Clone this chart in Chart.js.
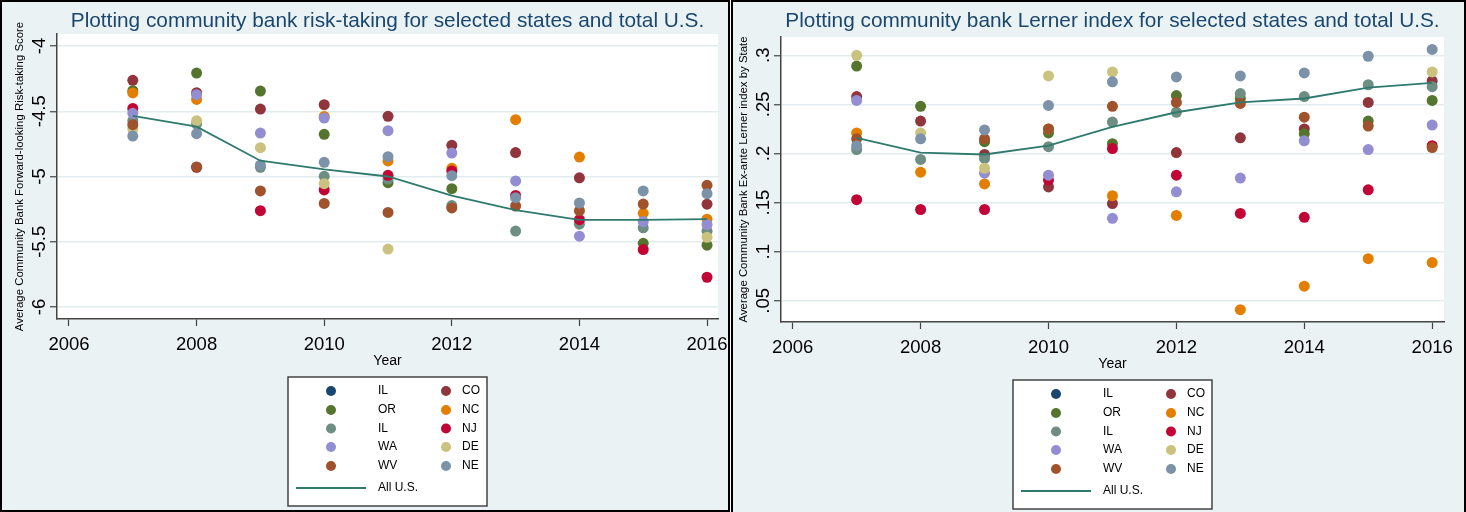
<!DOCTYPE html>
<html>
<head>
<meta charset="utf-8">
<script src="https://cdn.jsdelivr.net/npm/chart.js@4.4.1/dist/chart.umd.min.js"></script>
<style>
  body { margin: 0; background: #fff; }
  .panel { position: absolute; top: 0; box-sizing: border-box; border: 2px solid #000; background: #eaf2f3; }
  #leftPanel { left: 0; width: 730px; height: 512px; }
  #rightPanel { left: 731px; width: 735px; height: 514px; }
  canvas { display: block; }
</style>
</head>
<body>
<div class="panel" id="leftPanel"><canvas id="riskChart" width="726" height="508"></canvas></div>
<div class="panel" id="rightPanel"><canvas id="lernerChart" width="731" height="510"></canvas></div>
<script>
const FONT = '"Liberation Sans", Arial, sans-serif';

const years = [2007, 2008, 2009, 2010, 2011, 2012, 2013, 2014, 2015, 2016];
const xTicks = [2006, 2008, 2010, 2012, 2014, 2016];
const xTickLabels = ['2006', '2008', '2010', '2012', '2014', '2016'];

// Stata legend order (row-major, 2 columns)
const states = ['IL', 'CO', 'OR', 'NC', 'IL', 'NJ', 'WA', 'DE', 'WV', 'NE'];
const stateColors = ['#1a476f', '#90353b', '#55752f', '#e37e00', '#6e8e84',
                     '#c10534', '#938dd2', '#cac27e', '#a0522d', '#7b92a8'];
const usLabel = 'All U.S.';
const usColor = '#2f7a6d';

// risk-taking score
const riskIL = [null, null, null, null, null, null, null, null, null, null];
const riskCO = [-4.263, -4.358, -4.483, -4.450, -4.539, -4.761, -4.817, -5.010, null, -5.212];
const riskOR = [-4.342, -4.207, -4.345, -4.677, -5.047, -5.093, null, null, -5.512, -5.526];
const riskNC = [-4.360, -4.409, null, -4.540, -4.881, -4.937, -4.565, -4.851, -5.282, -5.327];
const riskIL2 = [-4.572, -4.598, -4.930, -4.999, -5.020, -5.223, -5.418, -5.365, -5.393, -5.419];
const riskNJ = [-4.478, -4.930, -5.262, -5.103, -4.991, -4.958, -5.145, -5.331, -5.560, -5.772];
const riskWA = [-4.516, -4.373, -4.667, -4.552, -4.649, -4.820, -5.034, -5.457, -5.345, -5.368];
const riskDE = [-4.636, -4.572, -4.779, -5.055, -5.556, null, null, null, null, -5.466];
const riskWV = [-4.603, -4.927, -5.111, -5.206, -5.275, -5.241, -5.226, -5.262, -5.211, -5.068];
const riskNE = [-4.690, -4.672, -4.912, -4.891, -4.848, -4.994, -5.162, -5.203, -5.111, -5.132];
const riskUS = [-4.536, -4.618, -4.879, -4.945, -5.000, -5.147, -5.258, -5.333, -5.333, -5.326];
const riskTicks = [-6, -5.5, -5, -4.5, -4];
const riskTickLabels = ['-6', '-5.5', '-5', '-4.5', '-4'];

// Lerner index
const lernerIL = [null, null, null, null, null, null, null, null, null, null];
const lernerCO = [0.258, 0.233, 0.199, 0.166, 0.149, 0.201, 0.216, 0.225, 0.252, 0.274];
const lernerOR = [0.289, 0.248, 0.212, 0.221, 0.210, 0.259, 0.256, 0.220, 0.233, 0.254];
const lernerNC = [0.221, 0.181, 0.169, 0.225, 0.157, 0.137, 0.041, 0.065, 0.093, 0.089];
const lernerIL2 = [0.204, 0.194, 0.195, 0.207, 0.232, 0.242, 0.261, 0.258, 0.270, 0.268];
const lernerNJ = [0.153, 0.143, 0.143, 0.173, 0.205, 0.178, 0.139, 0.135, 0.163, 0.208];
const lernerWA = [0.254, null, 0.180, 0.178, 0.134, 0.161, 0.175, 0.213, 0.204, 0.229];
const lernerDE = [0.300, 0.221, 0.185, 0.279, 0.283, null, null, null, null, 0.283];
const lernerWV = [0.215, null, 0.215, 0.225, 0.248, 0.252, 0.251, 0.237, 0.228, 0.206];
const lernerNE = [0.208, 0.215, 0.224, 0.249, 0.273, 0.278, 0.279, 0.282, 0.299, 0.306];
const lernerUS = [0.216, 0.201, 0.199, 0.208, 0.227, 0.242, 0.252, 0.256, 0.267, 0.272];
const lernerTicks = [0.05, 0.1, 0.15, 0.2, 0.25, 0.3];
const lernerTickLabels = ['.05', '.1', '.15', '.2', '.25', '.3'];

const toPoints = vals => years.map((x, i) => ({ x, y: vals[i] })).filter(p => p.y !== null);

// titles, axis labels and legend drawn Stata-style
const stataDecor = {
  id: 'stataDecor',
  beforeDraw(chart) {
    const { ctx, chartArea: a } = chart;
    ctx.save();
    ctx.fillStyle = '#fff';
    ctx.fillRect(a.left, a.top, a.right - a.left, a.bottom - a.top);
    ctx.restore();
  },
  afterDraw(chart, args, o) {
    const { ctx, chartArea: a } = chart;
    const cx = (a.left + a.right) / 2;
    const cy = (a.top + a.bottom) / 2;
    ctx.save();
    ctx.textAlign = 'center';
    ctx.textBaseline = 'alphabetic';

    ctx.fillStyle = '#1a476f';
    ctx.font = '20.8px ' + FONT;
    ctx.fillText(o.title, cx, 24.5);

    ctx.fillStyle = '#000';
    ctx.font = '18.5px ' + FONT;
    const ys = chart.scales.y;
    o.yTicks.forEach((v, i) => {
      ctx.save();
      ctx.translate(a.left - 12, ys.getPixelForValue(v));
      ctx.rotate(-Math.PI / 2);
      ctx.fillText(o.yTickLabels[i], 0, 0);
      ctx.restore();
    });

    ctx.font = '11.4px ' + FONT;
    ctx.save();
    ctx.translate(a.left - 34, cy);
    ctx.rotate(-Math.PI / 2);
    ctx.fillText(o.yTitle, 0, 0);
    ctx.restore();

    ctx.font = '14px ' + FONT;
    ctx.fillText('Year', cx, a.bottom + 46);

    // legend box
    const bx = cx - 99.5, by = a.bottom + 58, bw = 199, bh = 129;
    ctx.fillStyle = '#fff';
    ctx.fillRect(bx, by, bw, bh);
    ctx.strokeStyle = '#444';
    ctx.lineWidth = 1.5;
    ctx.strokeRect(bx, by, bw, bh);
    const rowY = [14, 33, 51.5, 70, 89, 111];
    ctx.font = '12px ' + FONT;
    ctx.textAlign = 'left';
    ctx.textBaseline = 'middle';
    chart.data.datasets.forEach((d, i) => {
      const col = i % 2;
      const y = by + rowY[Math.floor(i / 2)];
      if (d.showLine) {
        ctx.strokeStyle = d.borderColor;
        ctx.lineWidth = 1.8;
        ctx.beginPath();
        ctx.moveTo(bx + 8, y);
        ctx.lineTo(bx + 78, y);
        ctx.stroke();
      } else {
        ctx.fillStyle = d.backgroundColor;
        ctx.beginPath();
        ctx.arc(bx + (col ? 158 : 43), y, 5, 0, Math.PI * 2);
        ctx.fill();
      }
      ctx.fillStyle = '#000';
      ctx.fillText(d.label, bx + (col ? 174 : 90), y);
    });
    ctx.restore();
  }
};

function buildChart(id, c) {
  const datasets = c.series.map((vals, i) => ({
    label: states[i],
    data: toPoints(vals),
    backgroundColor: stateColors[i],
    borderColor: stateColors[i],
    borderWidth: 0,
    pointRadius: 5.5,
    pointHoverRadius: 5.5,
    order: 20 - i
  }));
  datasets.push({
    label: usLabel,
    data: toPoints(c.us),
    showLine: true,
    borderColor: usColor,
    backgroundColor: usColor,
    borderWidth: 1.8,
    pointRadius: 0,
    tension: 0,
    order: 0
  });

  return new Chart(document.getElementById(id), {
    type: 'scatter',
    data: { datasets },
    plugins: [stataDecor],
    options: {
      responsive: false,
      animation: false,
      devicePixelRatio: 1,
      layout: { padding: c.padding },
      plugins: {
        legend: { display: false },
        tooltip: { enabled: false },
        stataDecor: { title: c.title, yTitle: c.yTitle, yTicks: c.yTicks, yTickLabels: c.yTickLabels }
      },
      scales: {
        x: {
          type: 'linear',
          min: c.xMin,
          max: c.xMax,
          afterBuildTicks: s => { s.ticks = xTicks.map(v => ({ value: v })); },
          afterFit: s => { s.height = 45; s.paddingLeft = 0; s.paddingRight = 0; },
          ticks: {
            autoSkip: false,
            maxRotation: 0,
            padding: 7.5,
            color: '#000',
            font: { family: FONT, size: 18.5 },
            callback: (v, i) => xTickLabels[i]
          },
          grid: { drawOnChartArea: false, tickColor: '#444', tickLength: 7, tickWidth: 1.2 },
          border: { color: '#444', width: 1.5 }
        },
        y: {
          type: 'linear',
          min: c.yMin,
          max: c.yMax,
          afterBuildTicks: s => { s.ticks = c.yTicks.map(v => ({ value: v })); },
          afterFit: s => { s.width = c.yWidth; s.paddingTop = 0; s.paddingBottom = 0; },
          ticks: { display: false },
          grid: { color: '#e2ebee', lineWidth: 1.5, tickColor: '#444', tickLength: 7, tickWidth: 1.2 },
          border: { color: '#444', width: 1.5 }
        }
      }
    }
  });
}

buildChart('riskChart', {
  title: 'Plotting community bank risk-taking for selected states and total U.S.',
  yTitle: 'Average Community Bank Forward-looking Risk-taking Score',
  series: [riskIL, riskCO, riskOR, riskNC, riskIL2, riskNJ, riskWA, riskDE, riskWV, riskNE],
  us: riskUS,
  yTicks: riskTicks,
  yTickLabels: riskTickLabels,
  yMin: -6.092, yMax: -3.908,
  xMin: 2005.812, xMax: 2016.172,
  yWidth: 55,
  padding: { left: 0, right: 10, top: 32, bottom: 146 }
});

buildChart('lernerChart', {
  title: 'Plotting community bank Lerner index for selected states and total U.S.',
  yTitle: 'Average Community Bank Ex-ante Lerner index by State',
  series: [lernerIL, lernerCO, lernerOR, lernerNC, lernerIL2, lernerNJ, lernerWA, lernerDE, lernerWV, lernerNE],
  us: lernerUS,
  yTicks: lernerTicks,
  yTickLabels: lernerTickLabels,
  yMin: 0.0285, yMax: 0.3186,
  xMin: 2005.817, xMax: 2016.185,
  yWidth: 48,
  padding: { left: 0, right: 20, top: 35, bottom: 145 }
});
</script>
</body>
</html>
